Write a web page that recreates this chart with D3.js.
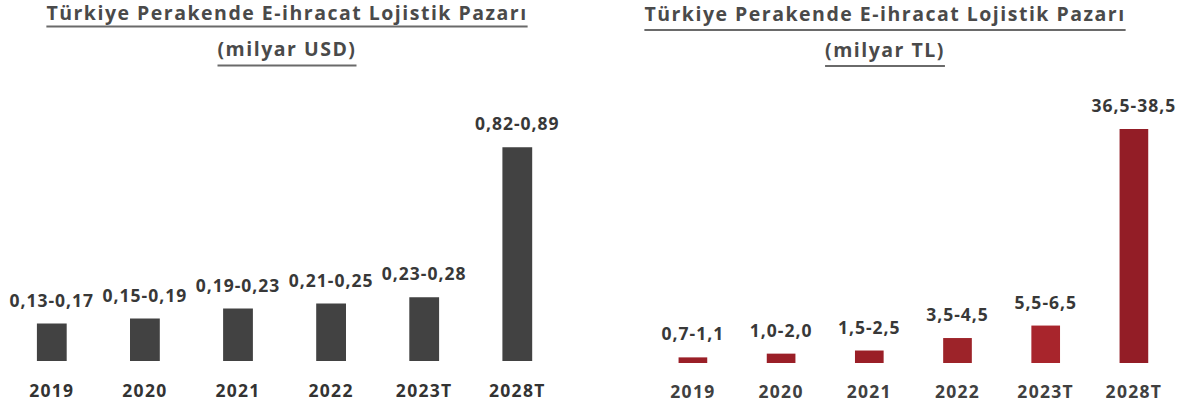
<!DOCTYPE html>
<html>
<head>
<meta charset="utf-8">
<script src="https://cdn.jsdelivr.net/npm/d3@7"></script>
<style>
  html, body { margin: 0; padding: 0; background: #ffffff; }
  svg { display: block; }
  text { font-family: "Open Sans", "DejaVu Sans", sans-serif; font-weight: 700; }
</style>
</head>
<body>
<svg id="chart" width="1195" height="407"></svg>
<script>
// Years on the x axis (T = forecast)
const years = ["2019", "2020", "2021", "2022", "2023T", "2028T"];

// Market size ranges, billion USD
const usdLow  = [0.13, 0.15, 0.19, 0.21, 0.23, 0.82];
const usdHigh = [0.17, 0.19, 0.23, 0.25, 0.28, 0.89];

// Market size ranges, billion TL
const tlLow  = [0.7, 1.0, 1.5, 3.5, 5.5, 36.5];
const tlHigh = [1.1, 2.0, 2.5, 4.5, 6.5, 38.5];

const titleMain = "Türkiye Perakende E-ihracat Lojistik Pazarı";

const svg = d3.select("#chart");

// Turkish number style: decimal comma
function fmtRange(lo, hi, digits) {
  const f = v => v.toFixed(digits).replace(".", ",");
  return f(lo) + "-" + f(hi);
}

function drawPanel(cfg) {
  const g = svg.append("g");
  const rows = years.map((y, i) => ({
    year: y,
    lo: cfg.low[i],
    hi: cfg.high[i],
    mid: (cfg.low[i] + cfg.high[i]) / 2
  }));

  const x = d3.scaleBand()
    .domain(years)
    .range(cfg.xRange)
    .paddingInner(cfg.padInner)
    .paddingOuter(cfg.padInner / 2);

  const y = d3.scaleLinear()
    .domain(cfg.yDomain)
    .range(cfg.yRange);

  // Title, two lines, underlined
  const titleLines = [titleMain, cfg.unit];
  titleLines.forEach((t, i) => {
    const tx = g.append("text")
      .attr("x", cfg.titleX)
      .attr("y", cfg.titleY[i])
      .attr("text-anchor", "middle")
      .attr("fill", "#4a4a4a")
      .style("font-size", "19.5px")
      .style("letter-spacing", "1.5px")
      .text(t);
    const w = tx.node().getComputedTextLength();
    g.append("line")
      .attr("x1", cfg.titleX - w / 2)
      .attr("x2", cfg.titleX + w / 2)
      .attr("y1", cfg.underlineY[i])
      .attr("y2", cfg.underlineY[i])
      .attr("stroke", "#6a6a6a")
      .attr("stroke-width", 2);
  });

  // Bars drawn at the midpoint of each range
  g.selectAll("rect.bar")
    .data(rows)
    .join("rect")
    .attr("class", "bar")
    .attr("x", d => x(d.year))
    .attr("width", x.bandwidth())
    .attr("y", d => y(d.mid))
    .attr("height", d => y(0) - y(d.mid))
    .attr("fill", (d, i) => cfg.colors[i]);

  // Range labels above bars
  g.selectAll("text.val")
    .data(rows)
    .join("text")
    .attr("class", "val")
    .attr("x", d => x(d.year) + x.bandwidth() / 2)
    .attr("y", d => y(d.mid) - 17)
    .attr("text-anchor", "middle")
    .attr("fill", "#383838")
    .style("font-size", "17.5px")
    .style("letter-spacing", "1px")
    .text(d => fmtRange(d.lo, d.hi, cfg.digits));

  // Category axis labels
  const xAxis = d3.axisBottom(x).tickSize(0).tickPadding(0);
  const ax = g.append("g")
    .attr("transform", `translate(0,${cfg.axisY})`)
    .call(xAxis);
  ax.select(".domain").remove();
  ax.selectAll("text")
    .attr("dy", 0)
    .attr("y", 0)
    .attr("fill", cfg.axisColor)
    .style("font-size", "17.5px")
    .style("letter-spacing", "1.3px")
    .style("font-family", "\"Open Sans\", sans-serif")
    .style("font-weight", "700");
}

drawPanel({
  unit: "(milyar USD)",
  low: usdLow,
  high: usdHigh,
  digits: 2,
  xRange: [5.25, 563.85],
  padInner: 0.68,
  yDomain: [0, 1],
  yRange: [361, 111],
  titleX: 287,
  titleY: [20, 56],
  underlineY: [26.5, 65.5],
  colors: ["#424242", "#424242", "#424242", "#424242", "#424242", "#424242"],
  axisY: 397,
  axisColor: "#333333"
});

drawPanel({
  unit: "(milyar TL)",
  low: tlLow,
  high: tlHigh,
  digits: 1,
  xRange: [648.8, 1178],
  padInner: 0.675,
  yDomain: [0, 40],
  yRange: [363, 113.4],
  titleX: 885,
  titleY: [21, 57],
  underlineY: [30, 66],
  colors: ["#9a1f27", "#9a1f27", "#9a1f27", "#9d2329", "#a8252c", "#931d26"],
  axisY: 398,
  axisColor: "#404040"
});
</script>
</body>
</html>
